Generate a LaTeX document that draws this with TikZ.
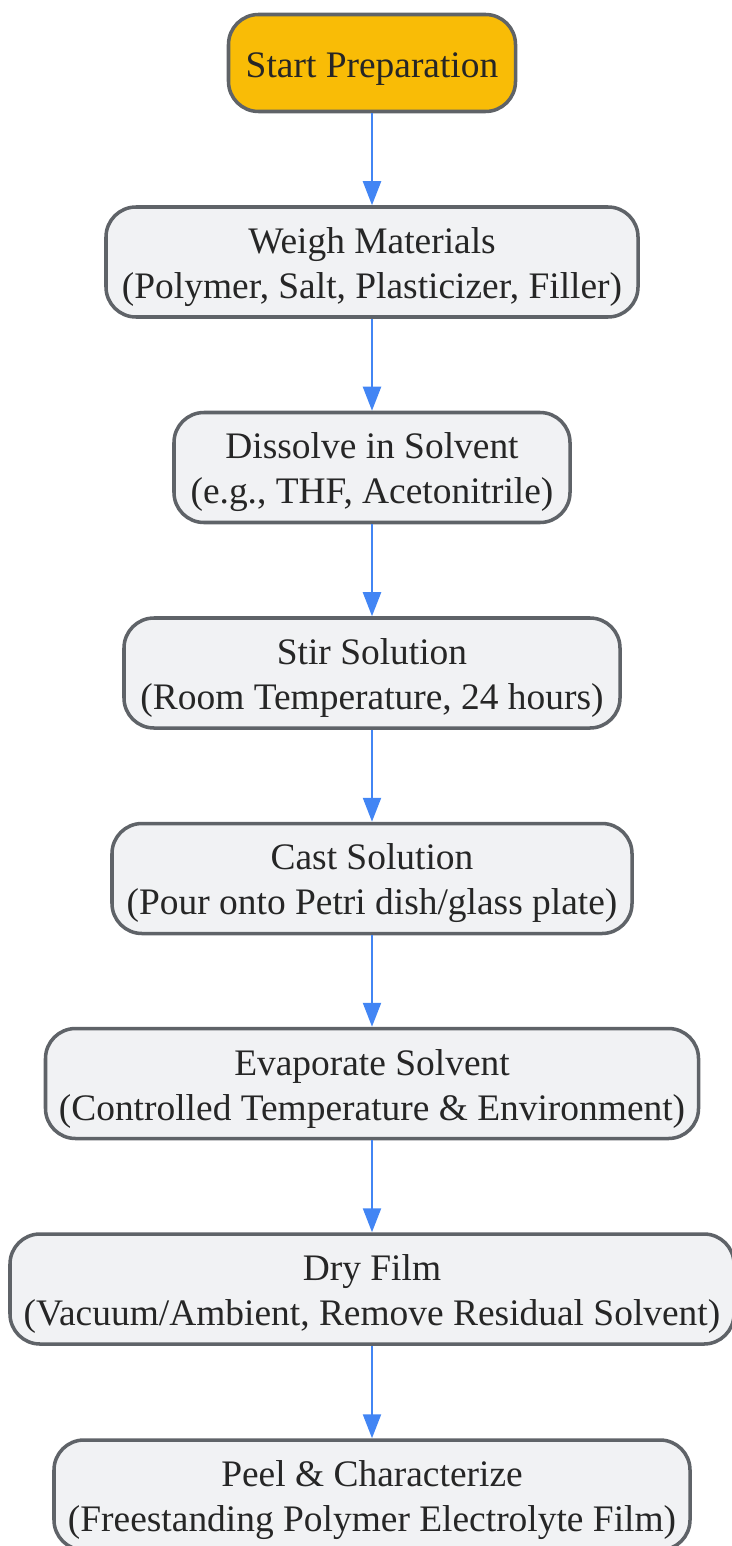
\documentclass[tikz,border=0pt]{standalone}
\usepackage{fontspec}
\setmainfont{Liberation Serif}
\usetikzlibrary{arrows.meta}
\definecolor{startgold}{HTML}{F9BC06}
\definecolor{stepfill}{HTML}{F1F2F4}
\definecolor{stepline}{HTML}{5F6368}
\definecolor{flowblue}{HTML}{4285F4}
\definecolor{textgray}{HTML}{262626}
\newcommand{\topstrut}{\rule{0pt}{20.5pt}}
\begin{document}
\begin{tikzpicture}[%
% common options for the process boxes:
stepbox/.style = {draw=stepline, line width=2pt, fill=stepfill, rounded corners=0.6cm,
            align=center, minimum height=2.2cm, inner sep=0, text=textgray,
            font=\fontsize{21.3}{25.6}\selectfont},
% common options for the connectors:
flow/.style = {draw=flowblue, line width=1.3pt, -{Triangle[length=0.48cm,width=0.36cm]}}]
\useasboundingbox (0,0) rectangle (14.64,-30.92);
\node[stepbox, fill=startgold, minimum width=5.74cm, minimum height=1.94cm] (S0) at (7.44,-1.26) {\topstrut Start Preparation};
\node[stepbox, minimum width=10.64cm] (S1) at (7.44,-5.24) {\topstrut Weigh Materials\\(Polymer, Salt, Plasticizer, Filler)};
\node[stepbox, minimum width=7.92cm] (S2) at (7.44,-9.35) {\topstrut Dissolve in Solvent\\(e.g., THF, Acetonitrile)};
\node[stepbox, minimum width=9.92cm] (S3) at (7.44,-13.46) {\topstrut Stir Solution\\(Room Temperature, 24 hours)};
\node[stepbox, minimum width=10.40cm] (S4) at (7.44,-17.57) {\topstrut Cast Solution\\(Pour onto Petri dish/glass plate)};
\node[stepbox, minimum width=13.06cm] (S5) at (7.44,-21.67) {\topstrut Evaporate Solvent\\(Controlled Temperature \& Environment)};
\node[stepbox, minimum width=14.48cm] (S6) at (7.44,-25.78) {\topstrut Dry Film\\(Vacuum/Ambient, Remove Residual Solvent)};
\node[stepbox, minimum width=12.72cm] (S7) at (7.44,-29.90) {\topstrut Peel \& Characterize\\(Freestanding Polymer Electrolyte Film)};
\draw[flow] (S0.south) to (S1.north);
\draw[flow] (S1.south) to (S2.north);
\draw[flow] (S2.south) to (S3.north);
\draw[flow] (S3.south) to (S4.north);
\draw[flow] (S4.south) to (S5.north);
\draw[flow] (S5.south) to (S6.north);
\draw[flow] (S6.south) to (S7.north);
\end{tikzpicture}
\end{document}
